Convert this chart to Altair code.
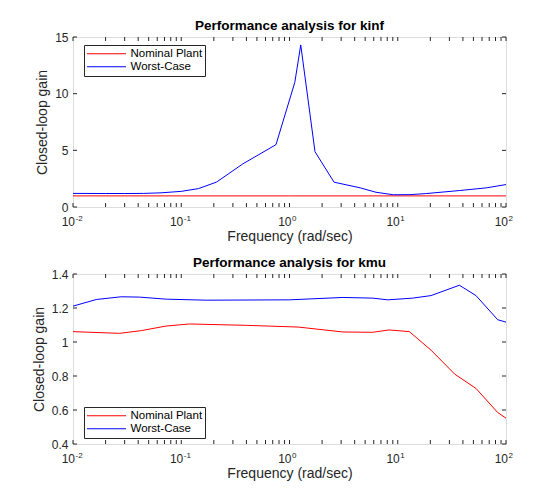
import pandas as pd
import altair as alt

# --- data --------------------------------------------------------------
series_names = ["Nominal Plant", "Worst-Case"]

# top panel: kinf
kinf_nom_freq = [0.01, 0.1, 1, 10, 100]
kinf_nom_gain = [0.98, 0.98, 0.98, 0.98, 0.98]
kinf_wc_freq = [0.01, 0.02, 0.03, 0.045, 0.065, 0.1, 0.144, 0.212, 0.37, 0.75,
                1.12, 1.27, 1.72, 2.58, 4.5, 6.3, 9.1, 13, 18, 37, 66, 100]
kinf_wc_gain = [1.2, 1.19, 1.19, 1.2, 1.25, 1.38, 1.62, 2.2, 3.8, 5.5,
                11.0, 14.3, 4.88, 2.19, 1.69, 1.3, 1.08, 1.09, 1.18, 1.45, 1.69, 1.98]

# bottom panel: kmu
kmu_nom_freq = [0.01, 0.027, 0.0428, 0.0727, 0.119, 0.398, 1.2, 3.11, 5.87, 8.3,
                12.8, 20.3, 33.6, 52.8, 83.8, 100]
kmu_nom_gain = [1.061, 1.051, 1.067, 1.094, 1.106, 1.098, 1.088, 1.059, 1.057, 1.071,
                1.061, 0.952, 0.811, 0.727, 0.585, 0.552]
kmu_wc_freq = [0.01, 0.0164, 0.0279, 0.0412, 0.0727, 0.17, 1.0, 3.11, 5.87, 8.09,
               13.7, 20.3, 37.1, 52.8, 83.8, 100]
kmu_wc_gain = [1.211, 1.25, 1.266, 1.264, 1.252, 1.246, 1.248, 1.262, 1.258, 1.248,
               1.258, 1.273, 1.334, 1.273, 1.131, 1.117]

# axis ticks and labels
x_major = [0.01, 0.1, 1, 10, 100]
x_exponents = ["-2", "-1", "0", "1", "2"]
x_minor = [m * d for d in [0.01, 0.1, 1, 10] for m in range(2, 10)]
kinf_yticks = [0, 5, 10, 15]
kmu_yticks = [0.4, 0.6, 0.8, 1.0, 1.2, 1.4]

W, H = 433, 170
TICK = 4
FONT = "Liberation Sans"
INK = "#262626"


def build_panel(title, nom_f, nom_g, wc_f, wc_g, y_dom, y_ticks, legend_y):
    lines = pd.concat([
        pd.DataFrame({"freq": nom_f, "gain": nom_g, "series": series_names[0]}),
        pd.DataFrame({"freq": wc_f, "gain": wc_g, "series": series_names[1]}),
    ])
    xt = pd.DataFrame({"freq": x_major + x_minor})
    xl = pd.DataFrame({"freq": x_major, "base": "10", "exp": x_exponents})
    yt = pd.DataFrame({"gain": y_ticks})

    x_enc = alt.X("freq:Q", title="Frequency (rad/sec)",
                  scale=alt.Scale(type="log", domain=[0.01, 100], nice=False),
                  axis=alt.Axis(values=x_major, labels=False, grid=False,
                                ticks=False, domain=False, titlePadding=22.5,
                                titleFont=FONT, titleFontSize=14, titleColor=INK,
                                titleFontWeight="normal"))
    y_enc = alt.Y("gain:Q", title="Closed-loop gain",
                  scale=alt.Scale(domain=y_dom, nice=False, zero=False),
                  axis=alt.Axis(values=y_ticks, format="~g", grid=False, ticks=False,
                                domain=False, labelPadding=5, titlePadding=5,
                                labelFont=FONT, labelFontSize=12, labelColor=INK,
                                titleFont=FONT, titleFontSize=14, titleColor=INK,
                                titleFontWeight="normal"))

    curves = alt.Chart(lines).mark_line(strokeWidth=1, clip=True).encode(
        x=x_enc, y=y_enc,
        color=alt.Color("series:N",
                        scale=alt.Scale(domain=series_names, range=["#ff0000", "#0000ff"]),
                        legend=alt.Legend(title="", orient="none",
                                          legendX=11, legendY=legend_y,
                                          symbolType="stroke", symbolSize=1521,
                                          symbolStrokeWidth=1, clipHeight=12.5,
                                          labelFontSize=11.5, labelFont=FONT,
                                          labelColor="#000", labelOffset=4,
                                          padding=2.5, rowPadding=0,
                                          strokeColor=INK, fillColor="white")),
    )
    xb = alt.Chart(xt).mark_rule(color=INK, strokeWidth=1).encode(
        x=x_enc, y=alt.value(H), y2=alt.value(H - TICK))
    xtop = alt.Chart(xt).mark_rule(color=INK, strokeWidth=1).encode(
        x=x_enc, y=alt.value(0), y2=alt.value(TICK))
    yl = alt.Chart(yt).mark_rule(color=INK, strokeWidth=1).encode(
        y=y_enc, x=alt.value(0), x2=alt.value(TICK))
    yr = alt.Chart(yt).mark_rule(color=INK, strokeWidth=1).encode(
        y=y_enc, x=alt.value(W - TICK), x2=alt.value(W))

    # log-axis labels as 10 with a raised exponent
    base = alt.Chart(xl).mark_text(font=FONT, fontSize=12, color=INK, align="right",
                                   baseline="alphabetic", dx=2).encode(
        x=x_enc, y=alt.value(H + 18.5), text="base:N")
    expo = alt.Chart(xl).mark_text(font=FONT, fontSize=8, color=INK, align="left",
                                   baseline="alphabetic", dx=2.5).encode(
        x=x_enc, y=alt.value(H + 13.5), text="exp:N")

    return alt.layer(curves, xb, xtop, yl, yr, base, expo).properties(
        width=W, height=H,
        title=alt.Title(title, fontSize=13.5, fontWeight="bold", font=FONT,
                        color="#000", offset=-1, frame="group"),
    )


top = build_panel("Performance analysis for kinf", kinf_nom_freq, kinf_nom_gain,
                  kinf_wc_freq, kinf_wc_gain, [0, 15], kinf_yticks, 8)
bottom = build_panel("Performance analysis for kmu", kmu_nom_freq, kmu_nom_gain,
                     kmu_wc_freq, kmu_wc_gain, [0.4, 1.4], kmu_yticks, 133)

chart = alt.vconcat(top, bottom, spacing=11).resolve_legend(
    color="independent"
).properties(
    padding={"left": 23, "top": 10, "right": 10, "bottom": 5},
).configure_view(
    stroke=INK, strokeWidth=1
).configure(background="white")

chart.save("out.html", embed_options={"renderer": "svg", "actions": False})
